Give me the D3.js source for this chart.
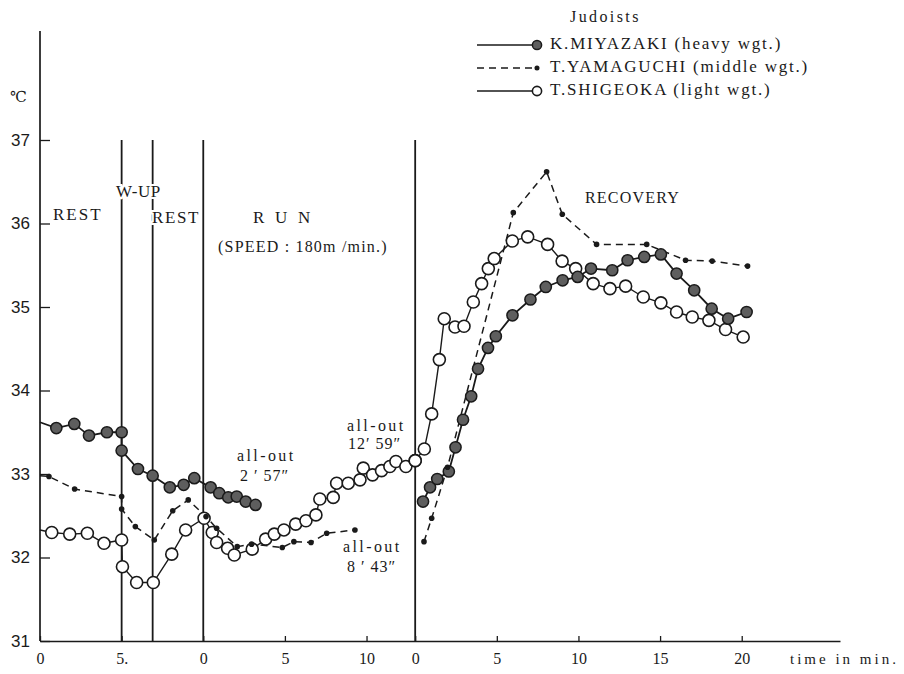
<!DOCTYPE html>
<html>
<head>
<meta charset="utf-8">
<script src="https://cdn.jsdelivr.net/npm/d3@7"></script>
<style>
  body { margin: 0; background: #fff; }
  svg text { font-family: "Liberation Serif", "Times New Roman", "DejaVu Serif", serif; fill: #1a1a1a; }
</style>
</head>
<body>
<div id="chart"></div>
<script>
// where each phase begins on the running time axis (min)
const phaseStart = { pre: 0, run: 10, rec: 22.98 };
// rest | w-up | rest | run (all-out 12'59") | recovery
const phaseLines = [5, 6.9, 10, 22.98];

const xTickValues = [0, 5, 10, 15, 20, 22.98, 27.98, 32.98, 37.98, 42.98];
const xTickLabels = ["0", "5.", "0", "5", "10", "0", "5", "10", "15", "20"];
const yTickValues = [31, 32, 33, 34, 35, 36, 37];
const yTickLabels = ["31", "32", "33", "34", "35", "36", "37"];

const names = ["K.MIYAZAKI (heavy wgt.)", "T.YAMAGUCHI (middle wgt.)", "T.SHIGEOKA (light wgt.)"];

// [minutes within phase, deg C]
const miyazakiPre = [[0, 33.62], [1, 33.55], [2.1, 33.6], [3, 33.46], [4.1, 33.5], [5, 33.5],
  [5, 33.28], [6, 33.06], [6.9, 32.98], [7.95, 32.84], [8.8, 32.87], [9.45, 32.95]];
const miyazakiRun = [[0.45, 32.84], [0.98, 32.77], [1.53, 32.72], [2.05, 32.73], [2.6, 32.67], [3.2, 32.63]];
const miyazakiRec = [[0.48, 32.67], [0.91, 32.84], [1.35, 32.94], [2.06, 33.03], [2.47, 33.32], [2.93, 33.65],
  [3.43, 33.93], [3.85, 34.26], [4.46, 34.51], [4.94, 34.65], [5.96, 34.9], [7.06, 35.09], [8.0, 35.24],
  [9.03, 35.32], [9.95, 35.36], [10.77, 35.46], [12.07, 35.44], [13.01, 35.56], [14.03, 35.6], [15.05, 35.63],
  [16.01, 35.4], [17.09, 35.2], [18.16, 34.98], [19.17, 34.86], [20.3, 34.94]];

const yamaguchiPre = [[0, 32.98], [0.55, 32.97], [2.12, 32.82], [5, 32.73],
  [5, 32.58], [5.84, 32.37], [7.0, 32.21], [8.13, 32.56], [9.08, 32.69]];
const yamaguchiRun = [[0.17, 32.49], [0.82, 32.35], [2.08, 32.13], [2.96, 32.16], [4.84, 32.12], [5.55, 32.19],
  [6.6, 32.18], [7.56, 32.29], [9.29, 32.33]];
const yamaguchiRec = [[0.54, 32.19], [1.01, 32.47], [1.98, 33.08], [6.01, 36.13], [8.05, 36.62], [9.01, 36.11],
  [11.11, 35.75], [14.18, 35.75], [16.56, 35.56], [18.19, 35.55], [20.36, 35.49]];

const shigeokaPre = [[0, 32.33], [0.72, 32.3], [1.82, 32.28], [2.9, 32.29], [3.92, 32.17], [5, 32.21],
  [5.05, 31.89], [5.92, 31.7], [6.94, 31.7], [8.07, 32.04], [8.92, 32.33]];
const shigeokaRun = [[0.05, 32.47], [0.55, 32.3], [0.82, 32.18], [1.49, 32.11], [1.9, 32.03], [3.0, 32.1],
  [3.82, 32.22], [4.35, 32.28], [4.94, 32.33], [5.66, 32.4], [6.29, 32.44], [6.9, 32.51], [7.14, 32.7],
  [7.96, 32.72], [8.17, 32.89], [8.88, 32.89], [9.6, 32.93], [9.8, 33.07], [10.37, 32.99], [10.92, 33.04],
  [11.43, 33.09], [11.8, 33.15], [12.41, 33.09], [12.98, 33.16]];
const shigeokaRec = [[0, 33.16], [0.56, 33.3], [1.01, 33.72], [1.48, 34.37], [1.78, 34.86], [2.44, 34.76],
  [2.99, 34.77], [3.56, 35.06], [4.07, 35.28], [4.48, 35.46], [4.84, 35.58], [5.95, 35.79], [6.89, 35.84],
  [8.11, 35.75], [9.0, 35.55], [9.83, 35.46], [10.9, 35.28], [11.93, 35.22], [12.89, 35.25], [13.97, 35.12],
  [15.05, 35.05], [16.01, 34.94], [16.97, 34.88], [17.99, 34.84], [19.01, 34.73], [20.09, 34.64]];

const width = 904;
const height = 674;
const ink = "#1a1a1a";
const serif = "'Liberation Serif', 'Times New Roman', 'DejaVu Serif', serif";

const svg = d3.select("#chart")
  .append("svg")
  .attr("width", width)
  .attr("height", height)
  .attr("font-family", serif);

const x = d3.scaleLinear().domain([0, 49]).range([40, 840]);
const y = d3.scaleLinear().domain([31, 37]).range([641, 140]);

function shift(arr, phase) {
  return arr.map(d => ({ t: d[0] + phaseStart[phase], v: d[1], edge: phase === "pre" && d[0] === 0 }));
}

const series = [
  { kind: "heavy", parts: [shift(miyazakiPre, "pre").concat(shift(miyazakiRun, "run")), shift(miyazakiRec, "rec")] },
  { kind: "middle", parts: [shift(yamaguchiPre, "pre").concat(shift(yamaguchiRun, "run")), shift(yamaguchiRec, "rec")] },
  { kind: "light", parts: [shift(shigeokaPre, "pre").concat(shift(shigeokaRun, "run")), shift(shigeokaRec, "rec")] }
];

const lineStyle = {
  heavy: { w: 1.8, dash: null },
  middle: { w: 1.5, dash: "7,5" },
  light: { w: 1.4, dash: null }
};

function marker(sel, kind, r) {
  if (kind === "heavy") {
    sel.attr("r", r || 5.6).attr("fill", "#5e5e5e").attr("stroke", ink).attr("stroke-width", 1.5);
  } else if (kind === "middle") {
    sel.attr("r", r ? r * 0.55 : 2.8).attr("fill", ink);
  } else {
    sel.attr("r", r || 6).attr("fill", "#fff").attr("stroke", ink).attr("stroke-width", 1.6);
  }
}

// axes
const xAxis = svg.append("g")
  .attr("transform", "translate(0,641)")
  .call(d3.axisBottom(x)
    .tickValues(xTickValues)
    .tickFormat((d, i) => xTickLabels[i])
    .tickSize(-5)
    .tickSizeOuter(0)
    .tickPadding(12));
xAxis.attr("font-family", serif);
xAxis.select(".domain").attr("stroke", ink).attr("stroke-width", 1.7);
xAxis.selectAll(".tick line").attr("stroke", ink).attr("stroke-width", 1.3);
xAxis.selectAll("text").attr("font-size", 16).attr("fill", ink);

const yAxis = svg.append("g")
  .attr("transform", "translate(40,0)")
  .call(d3.axisLeft(y)
    .tickValues(yTickValues)
    .tickFormat((d, i) => yTickLabels[i])
    .tickSize(-10)
    .tickSizeOuter(0)
    .tickPadding(10));
yAxis.attr("font-family", "'Liberation Sans Narrow', 'Liberation Sans', sans-serif");
yAxis.select(".domain").remove();
yAxis.selectAll(".tick line").attr("stroke", ink).attr("stroke-width", 1.3);
yAxis.selectAll("text").attr("font-size", 17).attr("fill", ink)
  .style("font-family", "'Liberation Sans Narrow', 'Liberation Sans', sans-serif");

svg.append("line")
  .attr("x1", 40).attr("x2", 40)
  .attr("y1", 31).attr("y2", 641)
  .attr("stroke", ink).attr("stroke-width", 1.7);

svg.append("text").attr("x", 10).attr("y", 102).attr("font-size", 15).text("℃");

// phase separators
svg.selectAll(".phase")
  .data(phaseLines)
  .enter().append("line")
  .attr("class", "phase")
  .attr("x1", d => x(d)).attr("x2", d => x(d))
  .attr("y1", y(37)).attr("y2", y(31))
  .attr("stroke", ink).attr("stroke-width", 1.8);

// labels inside the plot
const notes = [
  { text: "REST", x: 53, y: 220, ls: 2, halo: false },
  { text: "W-UP", x: 116, y: 197, ls: 0.6, halo: true },
  { text: "REST", x: 152, y: 223, ls: 1.6, halo: true },
  { text: "R U N", x: 253, y: 223, ls: 3.2, halo: false },
  { text: "(SPEED : 180m /min.)", x: 218, y: 252, ls: 1.2, halo: false, size: 16 },
  { text: "RECOVERY", x: 585, y: 203, ls: 1.2, halo: false, size: 16 },
  { text: "all-out", x: 237, y: 461, ls: 2.4, halo: false, size: 16 },
  { text: "2 ′ 57″", x: 240, y: 481, ls: 1, halo: false, size: 16 },
  { text: "all-out", x: 347, y: 431, ls: 2.4, halo: false, size: 16 },
  { text: "12′ 59″", x: 348, y: 449, ls: 1, halo: false, size: 16 },
  { text: "all-out", x: 343, y: 552, ls: 2.4, halo: false, size: 16 },
  { text: "8 ′ 43″", x: 347, y: 572, ls: 1, halo: false, size: 16 }
];

svg.selectAll(".note")
  .data(notes)
  .enter().append("text")
  .attr("class", "note")
  .attr("x", d => d.x)
  .attr("y", d => d.y)
  .attr("font-size", d => d.size || 17)
  .attr("letter-spacing", d => d.ls)
  .attr("stroke", d => d.halo ? "#fff" : "none")
  .attr("stroke-width", 4)
  .style("paint-order", "stroke")
  .text(d => d.text);

// series lines
const line = d3.line().x(d => x(d.t)).y(d => y(d.v));

series.forEach(s => {
  s.parts.forEach(p => {
    svg.append("path")
      .datum(p)
      .attr("d", line)
      .attr("fill", "none")
      .attr("stroke", ink)
      .attr("stroke-width", lineStyle[s.kind].w)
      .attr("stroke-dasharray", lineStyle[s.kind].dash);
  });
});

// markers: open circles first so the filled ones sit on top
[series[2], series[0], series[1]].forEach(s => {
  const pts = s.parts[0].concat(s.parts[1]).filter(d => !d.edge);
  svg.append("g").selectAll("circle")
    .data(pts)
    .enter().append("circle")
    .attr("cx", d => x(d.t))
    .attr("cy", d => y(d.v))
    .call(marker, s.kind);
});

// legend
svg.append("text").attr("x", 570).attr("y", 22).attr("font-size", 16)
  .attr("letter-spacing", 2.4).text("Judoists");

const legendY = [49, 72, 95];
series.forEach((s, i) => {
  const g = svg.append("g").attr("transform", `translate(0,${legendY[i]})`);
  g.append("line")
    .attr("x1", 477).attr("x2", 536)
    .attr("y1", -4).attr("y2", -4)
    .attr("stroke", ink)
    .attr("stroke-width", 1.4)
    .attr("stroke-dasharray", lineStyle[s.kind].dash);
  g.append("circle")
    .attr("cx", 537).attr("cy", -4)
    .call(marker, s.kind, 4.6);
  g.append("text")
    .attr("x", 550).attr("y", 0)
    .attr("font-size", 17)
    .attr("letter-spacing", 1.8)
    .text(names[i]);
});

svg.append("text").attr("x", 790).attr("y", 664).attr("font-size", 15)
  .attr("letter-spacing", 3).text("time in min.");
</script>
</body>
</html>
